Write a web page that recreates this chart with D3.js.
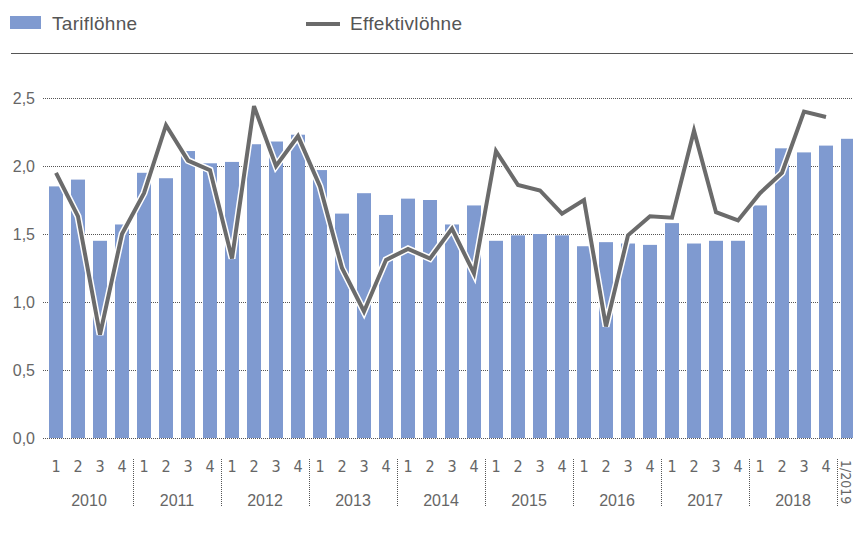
<!doctype html>
<html lang="de">
  <head>
    <meta charset="UTF-8" />
    <title>Tariflöhne und Effektivlöhne</title>
    <script src="https://d3js.org/d3.v7.min.js"></script>
    <style>
      body {
        margin: 0;
        background: #fff;
      }
      svg {
        display: block;
        font-family: "Liberation Sans", Arial, sans-serif;
      }
      .narrow {
        font-family: "Liberation Sans Narrow", "DejaVu Sans Condensed", sans-serif;
      }
    </style>
  </head>
  <body>
    <svg width="853" height="533"></svg>

    <script>
      const years = ["2010", "2011", "2012", "2013", "2014", "2015", "2016", "2017", "2018"];
      const quarterTicks = ["1", "2", "3", "4"];
      const lastPeriod = "1/2019";

      const tarif = [
        1.85, 1.9, 1.45, 1.57, 1.95, 1.91, 2.11, 2.02, 2.03, 2.16, 2.18, 2.23,
        1.97, 1.65, 1.8, 1.64, 1.76, 1.75, 1.57, 1.71, 1.45, 1.49, 1.5, 1.49,
        1.41, 1.44, 1.43, 1.42, 1.58, 1.43, 1.45, 1.45, 1.71, 2.13, 2.1, 2.15,
        2.2,
      ];
      const effektiv = [
        1.95, 1.63, 0.76, 1.5, 1.8, 2.3, 2.04, 1.97, 1.32, 2.44, 2.0, 2.22,
        1.85, 1.25, 0.93, 1.31, 1.39, 1.32, 1.54, 1.21, 2.11, 1.86, 1.82, 1.65,
        1.75, 0.82, 1.49, 1.63, 1.62, 2.26, 1.66, 1.6, 1.8, 1.95, 2.4, 2.36,
        null,
      ];
      const yTicks = [0, 0.5, 1, 1.5, 2, 2.5];

      const periods = [];
      years.forEach((yr) => quarterTicks.forEach((q) => periods.push(yr + "-" + q)));
      periods.push(lastPeriod);

      const barColor = "#7f9ad0";
      const lineColor = "#6b6b6b";
      const textColor = "#666";

      const svg = d3.select("svg");
      const plotLeft = 45,
        plotTop = 98,
        plotBottom = 438;

      const x = d3
        .scaleBand()
        .domain(periods)
        .range([plotLeft, plotLeft + periods.length * 22])
        .paddingInner(8 / 22)
        .paddingOuter(4 / 22);
      const y = d3.scaleLinear().domain([0, 2.5]).range([plotBottom, plotTop]);
      const cx = (p) => x(p) + x.bandwidth() / 2;

      // legend
      svg.append("rect").attr("x", 10).attr("y", 16).attr("width", 31).attr("height", 13).attr("fill", barColor);
      svg.append("text").attr("x", 52).attr("y", 29.5).attr("font-size", 19)
        .attr("letter-spacing", 0.3).attr("fill", "#555").text("Tariflöhne");
      svg.append("line").attr("x1", 306).attr("x2", 340).attr("y1", 24).attr("y2", 24)
        .attr("stroke", lineColor).attr("stroke-width", 4);
      svg.append("text").attr("x", 350).attr("y", 29.5).attr("font-size", 19)
        .attr("letter-spacing", 0.3).attr("fill", "#555").text("Effektivlöhne");
      svg.append("line").attr("x1", 11).attr("x2", 853).attr("y1", 53.5).attr("y2", 53.5)
        .attr("stroke", "#555").attr("stroke-width", 1);

      // grid + y labels
      const grid = svg.append("g");
      grid.selectAll("line").data(yTicks).join("line")
        .attr("x1", plotLeft - 2).attr("x2", 853)
        .attr("y1", (d) => Math.round(y(d)) + 0.5).attr("y2", (d) => Math.round(y(d)) + 0.5)
        .attr("stroke", "#555").attr("stroke-dasharray", "1,1");
      grid.selectAll("text").data(yTicks).join("text")
        .attr("x", 35).attr("y", (d) => y(d) + 6)
        .attr("text-anchor", "end").attr("font-size", 16).attr("fill", textColor)
        .text((d) => d3.format(".1f")(d).replace(".", ","));

      // bars
      svg.append("g").selectAll("rect").data(periods).join("rect")
        .attr("x", (p) => x(p)).attr("width", x.bandwidth())
        .attr("y", (p, i) => y(tarif[i])).attr("height", (p, i) => plotBottom - y(tarif[i]))
        .attr("fill", barColor);

      // line with white halo
      const pts = periods.map((p, i) => [p, effektiv[i]]).filter((d) => d[1] != null);
      const line = d3.line().x((d) => cx(d[0])).y((d) => y(d[1]));
      svg.append("path").datum(pts).attr("d", line).attr("fill", "none")
        .attr("stroke", "#fff").attr("stroke-width", 7).attr("stroke-linejoin", "miter");
      svg.append("path").datum(pts).attr("d", line).attr("fill", "none")
        .attr("stroke", lineColor).attr("stroke-width", 4).attr("stroke-linejoin", "miter");

      // x axis: quarters
      svg.append("g").attr("class", "narrow").selectAll("text")
        .data(periods.slice(0, years.length * 4)).join("text")
        .attr("x", (p) => cx(p)).attr("y", 472)
        .attr("text-anchor", "middle").attr("font-size", 16).attr("fill", textColor)
        .text((p) => p.split("-")[1]);

      // years
      svg.append("g").selectAll("text").data(years).join("text")
        .attr("x", (yr) => (cx(yr + "-1") + cx(yr + "-4")) / 2).attr("y", 506)
        .attr("text-anchor", "middle").attr("font-size", 16).attr("fill", textColor)
        .text((yr) => yr);

      // year separators
      const seps = years.slice(1).map((yr) => x(yr + "-1") - 4);
      seps.push(x(lastPeriod) - 4);
      svg.append("g").selectAll("line").data(seps).join("line")
        .attr("x1", (d) => Math.round(d) + 0.5).attr("x2", (d) => Math.round(d) + 0.5)
        .attr("y1", 459).attr("y2", 507)
        .attr("stroke", "#555").attr("stroke-dasharray", "1,1");

      svg.append("text").attr("class", "narrow")
        .attr("transform", `translate(${x(lastPeriod)},460) rotate(90)`)
        .attr("font-size", 14).attr("fill", textColor)
        .text(lastPeriod);
    </script>
  </body>
</html>
